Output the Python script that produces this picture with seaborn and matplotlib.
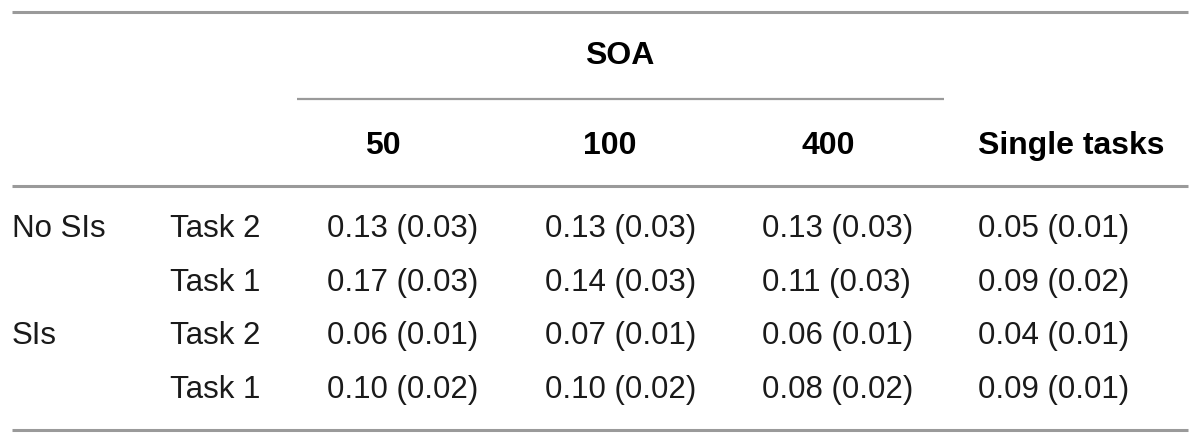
import matplotlib
matplotlib.use("Agg")
import matplotlib.pyplot as plt
import seaborn as sns

sns.set_theme(style="white")
plt.rcParams['font.family'] = ['Liberation Sans', 'DejaVu Sans']

group_title = "SOA"
col_headers = ["50", "100", "400", "Single tasks"]
row_groups = ["No SIs", "", "SIs", ""]
row_tasks = ["Task 2", "Task 1", "Task 2", "Task 1"]
means = [
    [0.13, 0.13, 0.13, 0.05],
    [0.17, 0.14, 0.11, 0.09],
    [0.06, 0.07, 0.06, 0.04],
    [0.10, 0.10, 0.08, 0.09],
]
sds = [
    [0.03, 0.03, 0.03, 0.01],
    [0.03, 0.03, 0.03, 0.02],
    [0.01, 0.01, 0.01, 0.01],
    [0.02, 0.02, 0.02, 0.01],
]

W, H = 1200, 443
fig = plt.figure(figsize=(W / 100, H / 100), dpi=100)
ax = fig.add_axes([0, 0, 1, 1])
ax.set_xlim(0, W)
ax.set_ylim(H, 0)
ax.axis("off")

line_col = "#9a9a9a"
# rules
ax.hlines([12, 186, 430], 12, 1188, color=line_col, lw=2.2)
ax.hlines(99, 297, 944, color=line_col, lw=1.6)

fs = 22.5
fsb = 23
txt_col = "#1a1a1a"
ax.text(620, 56, group_title, ha="center", va="center", fontsize=fsb, fontweight="bold", color="black")
head_x = [383, 610, 828, 978]
for i, h in enumerate(col_headers):
    ha = "left" if i == 3 else "center"
    ax.text(head_x[i], 146, h, ha=ha, va="center", fontsize=fsb, fontweight="bold", color="black")

row_y = [229, 283, 336, 390]
col_x = [327, 545, 762, 978]
for r in range(4):
    ax.text(12, row_y[r], row_groups[r], ha="left", va="center", fontsize=fs, color=txt_col)
    ax.text(170, row_y[r], row_tasks[r], ha="left", va="center", fontsize=fs, color=txt_col)
    for c in range(4):
        ax.text(col_x[c], row_y[r], f"{means[r][c]:.2f} ({sds[r][c]:.2f})",
                ha="left", va="center", fontsize=fs, color=txt_col)

fig.savefig("out.png", dpi=100, facecolor="white")
